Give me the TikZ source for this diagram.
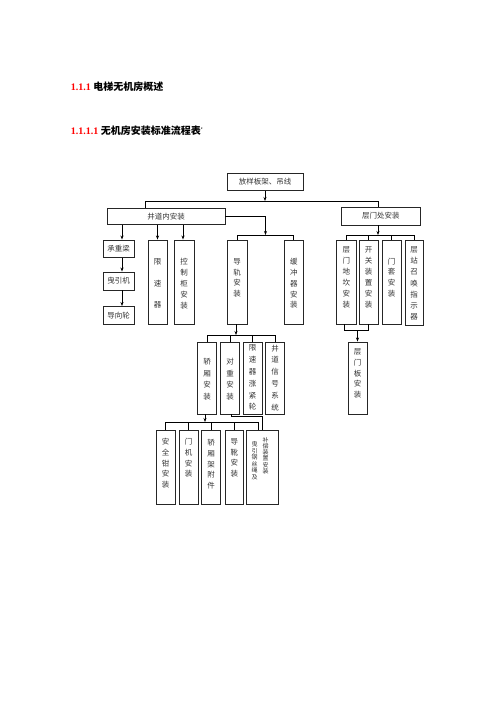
\documentclass[tikz,border=0pt]{standalone}
\usepackage{fontspec}
\setmainfont{Liberation Serif}
\newfontfamily\cjk{Noto Sans CJK SC}
\usetikzlibrary{arrows.meta}
\begin{document}
\begin{tikzpicture}[x=1pt,y=-1pt,
  box/.style={draw=black!85, line width=0.9pt, inner sep=0pt, font=\cjk\fontsize{7.5}{9}\selectfont, text=black!80},
  conn/.style={line width=0.7pt, draw=black},
  arr/.style={conn, -{Stealth[length=4pt,width=3pt]}},
  vt/.style={font=\cjk\fontsize{7.5}{#1}\selectfont, align=center, inner sep=0pt, anchor=north, text=black!80},
  vts/.style={font=\cjk\fontsize{6}{#1}\selectfont, align=center, inner sep=0pt, anchor=north, text=black!80}]
\useasboundingbox (0,0) rectangle (496,702);

% headings
\node[anchor=base west, inner sep=0pt] (h1) at (70.7,90.7)
  {\fontsize{10}{12}\selectfont\bfseries\textcolor{red}{1.1.1} {\cjk\bfseries 电梯无机房概述}};
\node[anchor=base west, inner sep=0pt] (h2) at (70.7,134)
  {\fontsize{10}{12}\selectfont\bfseries\textcolor{red}{1.1.1.1} {\cjk\bfseries 无机房安装标准流程表}\raisebox{3pt}{\fontsize{6}{6}\selectfont\char"60}};

% top level
\node[box, minimum width=76pt, minimum height=17.5pt] (top) at (265,181.75) {放样板架、吊线};
\node[box, minimum width=118pt, minimum height=16.5pt] (jdn) at (166,216.25) {井道内安装};
\node[box, minimum width=78.5pt, minimum height=18pt] (cmz) at (380.75,216) {层门处安装};

% left column
\node[box, minimum width=31pt, minimum height=17.5pt] (czl) at (118.5,248.75) {承重梁};
\node[box, minimum width=31pt, minimum height=18pt] (qyj) at (118.5,281) {曳引机};
\node[box, minimum width=31pt, minimum height=18pt] (dxl) at (118.5,315.5) {导向轮};

% second row tall boxes
\node[box, minimum width=19pt, minimum height=84pt] (xsq) at (157.5,282) {};
\node[box, minimum width=20pt, minimum height=84pt] (kzg) at (184,282) {};
\node[box, minimum width=20pt, minimum height=84pt] (dg) at (237,282) {};
\node[box, minimum width=19.5pt, minimum height=84pt] (hcq) at (293.75,282) {};
\node[box, minimum width=19.5pt, minimum height=84pt] (cmdk) at (346.25,282) {};
\node[box, minimum width=19pt, minimum height=84pt] (kgzz) at (368.5,282) {};
\node[box, minimum width=19pt, minimum height=84pt] (mt) at (391.5,282) {};
\node[box, minimum width=18pt, minimum height=85pt] (czzh) at (414,282.5) {};

\node[vt=21.7] (xsqt) at (157.5,258.3) {限\\速\\器};
\node[vt=10.8] (kzgt) at (184,258.3) {控\\制\\柜\\安\\装};
\node[vt=10.5] (dgt) at (237,258.3) {导\\轨\\安\\装};
\node[vt=10.8] (hcqt) at (293.75,258.3) {缓\\冲\\器\\安\\装};
\node[vt=11] (cmdkt) at (346.25,246.6) {层\\门\\地\\坎\\安\\装};
\node[vt=11] (kgzzt) at (368.5,246.6) {开\\关\\装\\置\\安\\装};
\node[vt=10.7] (mtt) at (391.5,257.6) {门\\套\\安\\装};
\node[vt=11.1] (czzht) at (414,246.6) {层\\站\\召\\唤\\指\\示\\器};

% third row
\node[box, minimum width=19pt, minimum height=72pt] (jx) at (207,378) {};
\node[box, minimum width=19pt, minimum height=72pt] (dz) at (230,378) {};
\node[box, minimum width=19pt, minimum height=72pt] (xszj) at (252.5,378) {};
\node[box, minimum width=19pt, minimum height=72pt] (jdxh) at (275,378) {};
\node[box, minimum width=19pt, minimum height=72pt] (cmb) at (357.5,378) {};

\node[vt=11.5] (jxt) at (207,358.3) {轿\\厢\\安\\装};
\node[vt=11.5] (dzt) at (230,358.3) {对\\重\\安\\装};
\node[vt=11.8] (xszjt) at (252.5,344.6) {限\\速\\器\\涨\\紧\\轮};
\node[vt=11.8] (jdxht) at (275,344.6) {井\\道\\信\\号\\系\\统};
\node[vt=10.8] (cmbt) at (357.5,348.3) {层\\门\\板\\安\\装};

% fourth row
\node[box, minimum width=19pt, minimum height=73.5pt] (aqq) at (165.5,467.25) {};
\node[box, minimum width=19pt, minimum height=73.5pt] (mj) at (188.5,467.25) {};
\node[box, minimum width=19pt, minimum height=73.5pt] (jxj) at (211,467.25) {};
\node[box, minimum width=18.5pt, minimum height=73.5pt] (dx) at (234.25,467.25) {};
\node[box, minimum width=32.5pt, minimum height=73.5pt] (qy) at (262.25,467.25) {};

\node[vt=10.6] (aqqt) at (165.5,438.3) {安\\全\\钳\\安\\装};
\node[vt=10.6] (mjt) at (188.5,438.3) {门\\机\\安\\装};
\node[vt=10.6] (jxjt) at (211,439.3) {轿\\厢\\架\\附\\件};
\node[vt=10.6] (dxt) at (234.25,438.3) {导\\靴\\安\\装};
\node[vts=6.5] (qyl) at (254.7,441.3) {曳\\引\\钢\\丝\\绳\\及};
\node[vts=6.2] (qyr) at (265.7,437) {补\\偿\\装\\置\\安\\装};

% bus coordinates
\coordinate (bA) at (265,201);
\coordinate (xa) at (145,201);
\coordinate (xc) at (378,201);
\coordinate (bB) at (265.5,235);
\coordinate (bC) at (378,235);
\coordinate (bD) at (357.5,330);
\coordinate (bE) at (236,335);
\coordinate (bF) at (205,422);
\coordinate (bG) at (258.3,422);
\coordinate (bH) at (262,416.5);

% connectors
\draw[arr] (top.south) -- (bA);
\draw[conn] (xa |- jdn.north) -- (xa) -- (xc) -- (xc |- cmz.north);

\draw[arr] ([xshift=3.5pt]czl.north |- jdn.south) -- ([xshift=3.5pt]czl.north);
\draw[arr] (xsq.north |- jdn.south) -- (xsq.north);
\draw[arr] ([xshift=-1pt]kzg.north |- jdn.south) -- ([xshift=-1pt]kzg.north);
\draw[arr] ([xshift=3.5pt]czl.south) -- ([xshift=3.5pt]qyj.north);
\draw[arr] ([xshift=3.5pt]qyj.south) -- ([xshift=3.5pt]dxl.north);

\draw[arr] (jdn.east) -| (bB);
\draw[conn] (dg.north) |- (bB);
\draw[conn] (hcq.north) |- (bB);

\draw[arr] (bC |- cmz.south) -- (bC);
\draw[conn] (cmdk.north) |- (czzh.north |- bC) -- (czzh.north);
\draw[conn] (kgzz.north) -- (kgzz.north |- bC);
\draw[conn] (mt.north) -- (mt.north |- bC);

\draw[conn] ([xshift=-2pt]cmdk.south) |- ([xshift=-0.5pt]kgzz.south |- bD) -- ([xshift=-0.5pt]kgzz.south);
\draw[arr] (bD) -- (cmb.north);

\draw[arr] (bE |- dg.south) -- (bE);
\draw[conn] (jx.north) |- (jdxh.north |- bE) -- (jdxh.north);
\draw[conn] (dz.north) -- (dz.north |- bE);
\draw[conn] (xszj.north) -- (xszj.north |- bE);

\draw[arr] (bF |- jx.south) -- (bF);
\draw[conn] (aqq.north) |- (bG) -- (bG |- qy.north);
\draw[conn] (mj.north) -- (mj.north |- bG);
\draw[conn] (jxj.north) -- (jxj.north |- bG);
\draw[conn] (dx.north) -- (dx.north |- bG);

\draw[conn] ([xshift=1pt]dz.south) |- (bH) -- (bH |- qy.north);
\end{tikzpicture}
\end{document}
